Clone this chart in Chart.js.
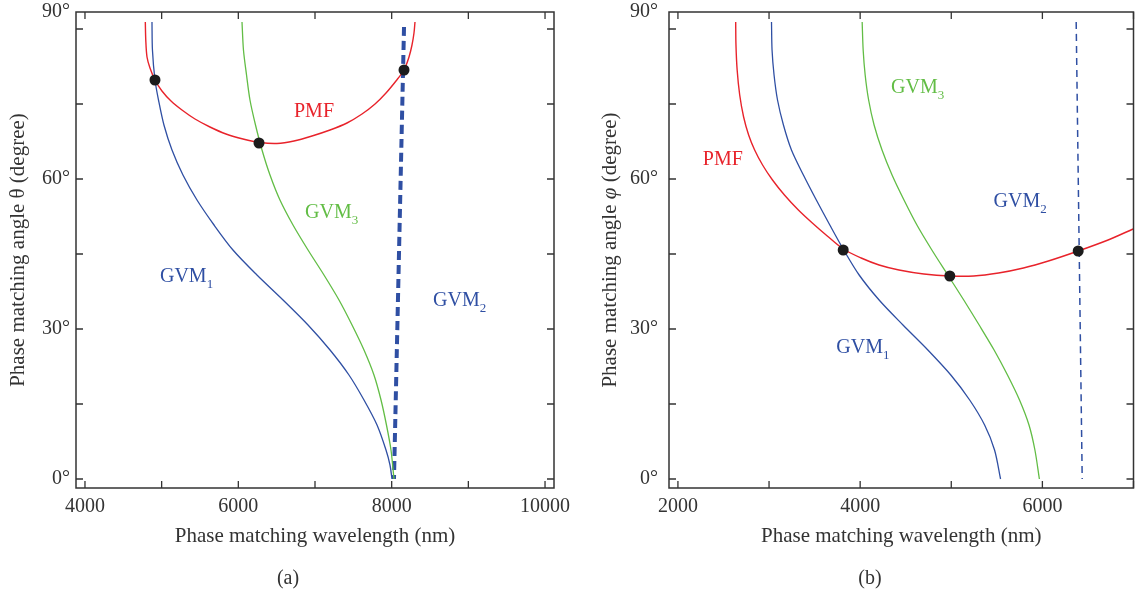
<!DOCTYPE html>
<html><head><meta charset="utf-8">
<script src="https://cdn.jsdelivr.net/npm/chart.js@4.4.1/dist/chart.umd.min.js"></script>
<style>
html,body{margin:0;padding:0;background:#fff;width:1139px;height:595px;overflow:hidden;}
canvas{position:absolute;top:0;}
#ca{left:0;}
#cb{left:576px;}
.cap{position:absolute;top:565px;width:100px;text-align:center;font:20px 'Liberation Serif',serif;color:#333;line-height:24px;}
#capA{left:238px;}
#capB{left:820px;}
</style></head><body>
<canvas id="ca" width="576" height="595"></canvas>
<canvas id="cb" width="563" height="595"></canvas>
<div class="cap" id="capA">(a)</div>
<div class="cap" id="capB">(b)</div>
<script>
// ---------- Panel (a) data ----------
const aXTickMarks = [4000,5000,6000,7000,8000,9000,10000];
const aXLabels = [4000,6000,8000,10000];
const aPmfX = [4787,4793,4809,4848,4913,5004,5122,5265,5435,5630,5839,6061,6283,6504,6726,6961,7196,7417,7613,7783,7926,8056,8161,8226,8265,8291,8304];
const aPmfY = [91.4,87.8,84.4,82.2,79.8,77.6,75.6,73.8,72.0,70.4,69.0,68.0,67.3,67.1,67.6,68.6,69.8,71.2,73.0,75.0,77.2,79.6,81.8,84.4,86.8,89.2,91.4];
const aGvm1X = [4874,4880,4913,4959,5030,5135,5278,5461,5683,5930,6243,6583,6909,7196,7443,7639,7809,7926,7978,8004];
const aGvm1Y = [91.4,85.8,79.8,75.8,70.8,65.8,60.8,55.8,50.8,45.8,40.8,35.8,30.8,25.8,20.8,15.8,10.8,5.8,2.8,0];
const aGvm3X = [6048,6067,6107,6152,6224,6309,6413,6543,6713,6909,7117,7313,7483,7639,7769,7861,7932,7991,8030];
const aGvm3Y = [91.4,85.8,80.8,75.8,70.8,65.8,60.8,55.8,50.8,45.8,40.8,35.8,30.8,25.8,20.8,15.8,10.8,5.8,0];
const aGvm2X = [8161,8030];
const aGvm2Y = [90.4,0];
const aDotX = [4913,6270,8161];
const aDotY = [79.8,67.2,81.8];

// ---------- Panel (b) data ----------
const bXTickMarks = [2000,3000,4000,5000,6000,7000];
const bXLabels = [2000,4000,6000];
const bPmfX = [2634,2637,2650,2678,2721,2776,2842,2929,3038,3169,3322,3475,3639,3814,4011,4208,4426,4699,4984,5246,5519,5792,6066,6393,6721,6995];
const bPmfY = [91.4,86.8,81.8,76.8,72.4,68.8,65.8,62.8,59.8,56.8,53.8,51.2,48.6,46.0,44.2,42.8,41.8,41.0,40.6,40.6,41.2,42.2,43.6,45.6,47.8,50.0];
const bGvm1X = [3027,3033,3055,3093,3158,3246,3377,3519,3667,3820,3989,4208,4470,4743,4995,5202,5366,5475,5541];
const bGvm1Y = [91.4,85.8,80.8,75.8,70.8,65.8,60.8,55.8,50.8,45.8,40.8,35.8,30.8,25.8,20.8,15.8,10.8,5.8,0];
const bGvm3X = [4022,4033,4055,4093,4153,4240,4350,4481,4623,4787,4962,5137,5306,5470,5617,5749,5853,5918,5967];
const bGvm3Y = [91.4,85.8,80.8,75.8,70.8,65.8,60.8,55.8,50.8,45.8,40.8,35.8,30.8,25.8,20.8,15.8,10.8,5.8,0];
const bGvm2X = [6371,6437];
const bGvm2Y = [91.4,0];
const bDotX = [3814,4984,6393];
const bDotY = [45.8,40.6,45.6];

// ---------- shared axis data ----------
const yTickMarks = [0,15,30,45,60,75,90];
const yLabels = [0,30,60];
const yTopLabel = '90°';
const Y_MIN = -1.8, Y_MAX = 93.4;

const FONT = "'Liberation Serif','Times New Roman',serif";
const RED = '#e8232b', BLUE = '#2f4fa3', GREEN = '#62bd45', DOT = '#1c1c1c';
Chart.defaults.font.family = FONT;
Chart.defaults.font.size = 20;
Chart.defaults.color = '#333';

function pts(xs, ys){ return xs.map((x,i)=>({x:x, y:ys[i]})); }
function lineDs(xs, ys, color, width, dash){
  return {data: pts(xs,ys), borderColor: color, borderWidth: width, borderDash: dash || [],
          pointRadius: 0, tension: 0.3, fill: false, showLine: true};
}
function dotDs(xs, ys){
  return {data: pts(xs,ys), showLine: false, pointRadius: 5.5, pointBackgroundColor: DOT,
          pointBorderWidth: 0, borderColor: DOT, backgroundColor: DOT};
}

const framePlugin = {
  id: 'frame',
  afterDatasetsDraw(chart){
    const o = chart.options.plugins.frame;
    const ctx = chart.ctx, a = chart.chartArea, xs = chart.scales.x, ys = chart.scales.y;
    ctx.save();
    ctx.strokeStyle = '#333'; ctx.lineWidth = 1.5;
    ctx.strokeRect(a.left, a.top, a.right - a.left, a.bottom - a.top);
    ctx.lineWidth = 1.3;
    const L = 7;
    ctx.beginPath();
    o.xTicks.forEach(v => { const p = xs.getPixelForValue(v);
      ctx.moveTo(p, a.bottom); ctx.lineTo(p, a.bottom - L);
      ctx.moveTo(p, a.top); ctx.lineTo(p, a.top + L); });
    o.yTicks.forEach(v => { const p = ys.getPixelForValue(v);
      ctx.moveTo(a.left, p); ctx.lineTo(a.left + L, p);
      ctx.moveTo(a.right, p); ctx.lineTo(a.right - L, p); });
    ctx.stroke();
    // top y label, placed at the top edge of the frame as in the source figure
    ctx.fillStyle = '#333';
    ctx.font = '20px ' + FONT;
    ctx.textAlign = 'right'; ctx.textBaseline = 'middle';
    ctx.fillText(yTopLabel, a.left - o.yPad, a.top);
    // curve labels
    ctx.textAlign = 'left'; ctx.textBaseline = 'alphabetic';
    o.labels.forEach(l => {
      const px = xs.getPixelForValue(l.x), py = ys.getPixelForValue(l.y);
      ctx.fillStyle = l.color;
      ctx.font = '20px ' + FONT;
      ctx.fillText(l.text, px, py);
      if (l.sub){
        const w = ctx.measureText(l.text).width;
        ctx.font = '13px ' + FONT;
        ctx.fillText(l.sub, px + w, py + 6);
      }
    });
    // y axis title
    ctx.fillStyle = '#333';
    ctx.translate(o.yTitleX, (a.top + a.bottom)/2);
    ctx.rotate(-Math.PI/2);
    ctx.textBaseline = 'middle';
    let total = 0;
    o.yTitle.forEach(s => { ctx.font = (s.i ? 'italic ' : '') + '21px ' + FONT; total += ctx.measureText(s.t).width; });
    let x0 = -total/2;
    o.yTitle.forEach(s => { ctx.font = (s.i ? 'italic ' : '') + '21px ' + FONT; ctx.fillText(s.t, x0, 0); x0 += ctx.measureText(s.t).width; });
    ctx.restore();
  }
};

function makeChart(id, cfg){
  return new Chart(document.getElementById(id), {
    type: 'line',
    data: {datasets: cfg.datasets},
    plugins: [framePlugin],
    options: {
      responsive: false, animation: false,
      layout: {padding: {left: 0, right: cfg.padRight, top: 12, bottom: 0}},
      plugins: {legend: {display: false}, tooltip: {enabled: false},
        frame: {xTicks: cfg.xTickMarks, yTicks: yTickMarks, labels: cfg.labels, yTitle: cfg.yTitle,
                yTitleX: cfg.yTitleX, yPad: cfg.yPad}},
      scales: {
        x: {type: 'linear', min: cfg.xMin, max: cfg.xMax,
            grid: {display: false, drawTicks: false, tickLength: 0}, border: {display: false},
            afterBuildTicks: s => { s.ticks = cfg.xLabels.map(v => ({value: v})); },
            afterFit: s => { s.height = 107; s.paddingLeft = 0; s.paddingRight = 0; },
            ticks: {autoSkip: false, maxRotation: 0, minRotation: 0, padding: 7, color: '#333',
                    callback: v => String(v)},
            title: {display: true, text: 'Phase matching wavelength (nm)', color: '#333',
                    padding: {top: 0, bottom: 46}, font: {size: 21}}},
        y: {type: 'linear', min: Y_MIN, max: Y_MAX,
            grid: {display: false, drawTicks: false, tickLength: 0}, border: {display: false},
            afterBuildTicks: s => { s.ticks = yLabels.map(v => ({value: v})); },
            afterFit: s => { s.width = cfg.yWidth; s.paddingTop = 0; s.paddingBottom = 0; },
            ticks: {autoSkip: false, padding: cfg.yPad, color: '#333',
                    callback: v => v + '°'}}
      }
    }
  });
}

makeChart('ca', {
  xMin: 3883, xMax: 10117, xTickMarks: aXTickMarks, xLabels: aXLabels,
  padRight: 22, yWidth: 76, yPad: 6, yTitleX: 18,
  yTitle: [{t: 'Phase matching angle θ (degree)', i: false}],
  datasets: [
    dotDs(aDotX, aDotY),
    lineDs(aPmfX, aPmfY, RED, 1.4),
    lineDs(aGvm1X, aGvm1Y, BLUE, 1.3),
    lineDs(aGvm3X, aGvm3Y, GREEN, 1.3),
    lineDs(aGvm2X, aGvm2Y, BLUE, 4, [9, 5])
  ],
  labels: [
    {text: 'PMF', x: 6726, y: 72.4, color: RED},
    {text: 'GVM', sub: '3', x: 6870, y: 52.2, color: GREEN},
    {text: 'GVM', sub: '1', x: 4978, y: 39.4, color: BLUE},
    {text: 'GVM', sub: '2', x: 8539, y: 34.6, color: BLUE}
  ]
});

makeChart('cb', {
  xMin: 1902, xMax: 7000, xTickMarks: bXTickMarks, xLabels: bXLabels,
  padRight: 4, yWidth: 93, yPad: 11, yTitleX: 34,
  yTitle: [{t: 'Phase matching angle ', i: false}, {t: 'φ', i: true}, {t: ' (degree)', i: false}],
  datasets: [
    dotDs(bDotX, bDotY),
    lineDs(bPmfX, bPmfY, RED, 1.4),
    lineDs(bGvm1X, bGvm1Y, BLUE, 1.3),
    lineDs(bGvm3X, bGvm3Y, GREEN, 1.3),
    lineDs(bGvm2X, bGvm2Y, BLUE, 1.5, [7, 5])
  ],
  labels: [
    {text: 'PMF', x: 2273, y: 62.8, color: RED},
    {text: 'GVM', sub: '3', x: 4339, y: 77.2, color: GREEN},
    {text: 'GVM', sub: '2', x: 5464, y: 54.4, color: BLUE},
    {text: 'GVM', sub: '1', x: 3738, y: 25.2, color: BLUE}
  ]
});
</script>
</body></html>
